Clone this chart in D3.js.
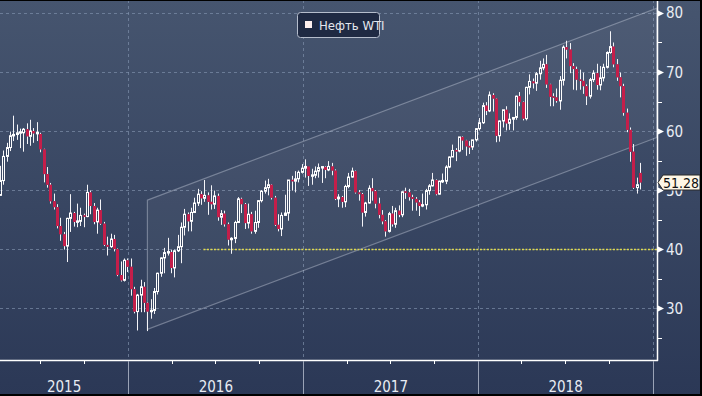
<!DOCTYPE html>
<html>
<head>
<meta charset="utf-8">
<title>WTI weekly</title>
<script src="https://cdn.jsdelivr.net/npm/d3@7"></script>
<style>
  body { margin: 0; background: #2e3b58; }
  svg { display: block; }
  text { font-family: "Liberation Sans Narrow", "Arial Narrow", "DejaVu Sans Condensed", sans-serif; }
</style>
</head>
<body>
<script>
// weekly candles, Apr 2015 - Dec 2018
var weekStart = new Date(2015, 3, 6);
var weekEnd = new Date(2018, 11, 4);

var opens = [
  49.1,51.6,55.7,57.2,59.2,59.4,59.7,59.7,60.3,59.1,60.0,59.6,59.5,56.9,52.7,50.9,48.1,47.1,43.9,42.5,40.5,45.2,46.1,44.6,44.7,45.7,45.5,49.6,47.3,44.6,46.6,44.3,40.7,40.4,41.7,40.0,35.6,34.7,38.1,
  37.0,33.2,29.4,32.2,33.6,30.9,29.4,29.6,32.8,35.9,38.5,39.4,39.5,36.8,39.7,40.4,43.7,45.9,44.7,46.2,47.8,49.3,48.6,49.1,48.0,47.6,49.0,45.4,46.0,44.2,41.6,41.8,44.5,48.5,47.6,44.4,45.9,43.0,44.5,48.2,49.8,50.4,50.9,48.7,44.1,43.4,45.7,46.1,51.7,51.5,51.9,53.0,
  53.7,54.0,52.4,52.5,53.2,53.8,53.9,53.4,54.0,53.3,48.5,48.8,48.0,50.6,52.2,53.2,49.6,49.3,46.2,47.8,50.3,49.8,47.7,45.8,44.7,43.0,46.0,44.2,46.5,45.8,49.7,49.6,48.8,48.5,47.9,47.3,47.5,49.9,50.7,51.7,49.3,51.5,51.5,53.9,55.6,56.7,56.6,59.0,58.4,57.4,57.3,58.5,
  60.4,61.4,64.3,63.4,66.1,65.5,59.2,61.7,63.6,61.3,62.0,62.3,65.9,64.9,62.1,67.4,68.4,68.1,69.7,70.7,71.3,67.9,65.8,65.7,65.1,68.6,74.2,73.8,71.0,70.5,68.7,68.5,67.6,65.9,68.7,69.8,67.8,69.0,70.8,73.3,74.3,71.3,69.1,67.6,63.1,60.2,56.5,50.4,52.9
];
var highs = [
  54.1,56.7,58.0,59.9,62.6,61.1,60.4,60.5,61.3,61.9,60.5,61.5,59.7,57.0,53.9,51.2,49.4,47.6,45.3,42.9,45.3,49.3,46.3,47.7,47.0,46.0,50.9,49.9,47.8,47.0,48.4,44.6,42.1,42.6,42.4,40.1,37.9,38.4,38.4,
  38.4,33.6,32.4,34.8,34.4,31.0,31.5,33.4,36.0,38.6,40.2,41.9,39.9,39.9,42.4,44.5,46.8,46.2,47.0,48.7,50.2,49.8,51.7,49.6,50.8,49.9,49.4,46.6,46.5,44.5,42.0,44.8,48.8,48.7,47.8,47.7,46.3,46.5,48.3,50.0,51.6,51.9,51.0,49.0,45.9,46.2,49.2,51.7,52.4,53.2,53.3,54.4,
  55.2,54.0,53.6,54.0,54.5,54.0,54.0,54.9,54.6,53.5,49.3,49.0,50.9,52.9,53.8,53.3,50.0,49.5,48.0,50.8,52.0,50.0,48.7,46.6,44.9,46.3,47.3,47.0,47.4,49.8,50.4,50.2,49.2,48.8,48.3,49.4,50.2,51.0,52.9,51.8,51.6,52.8,54.2,55.7,57.7,57.1,59.0,59.1,58.5,58.3,58.5,60.5,
  62.2,64.8,64.9,66.7,66.4,65.6,61.8,63.6,64.2,63.0,62.3,66.0,66.6,65.0,67.5,69.6,68.9,70.0,71.9,72.3,72.9,68.0,66.4,67.2,69.3,74.5,75.3,74.9,71.5,70.9,70.4,69.9,67.9,69.0,70.3,71.4,71.0,71.4,73.5,76.9,75.0,72.2,69.9,68.0,63.8,60.6,57.8,52.1,54.6
];
var lows = [
  49.0,50.9,54.8,56.6,58.3,58.5,57.1,56.5,57.8,57.5,58.0,58.3,56.4,51.3,50.4,47.7,46.7,43.5,41.4,39.9,37.8,42.9,43.8,43.7,43.9,43.7,45.4,45.9,44.2,42.6,44.1,40.5,38.9,40.2,39.6,35.4,34.5,34.5,36.1,
  32.1,29.1,26.2,29.3,29.3,26.1,28.2,29.0,32.3,35.3,35.9,38.9,35.9,35.2,39.5,37.6,42.3,43.0,43.0,46.1,47.3,47.5,48.0,45.8,46.7,46.8,44.8,44.1,43.8,40.6,39.2,41.0,44.4,46.1,43.4,43.5,42.6,42.6,43.6,47.9,49.4,49.1,48.4,43.9,43.0,42.2,45.6,44.8,49.9,49.6,51.3,52.8,
  52.1,50.7,50.9,52.0,52.1,51.2,52.0,53.2,52.5,48.3,47.1,47.0,47.1,50.3,52.1,49.4,48.2,43.8,45.5,47.7,48.2,46.9,45.2,44.2,42.1,42.8,43.8,43.6,45.4,45.4,48.5,48.2,46.5,46.5,45.6,47.1,46.7,49.2,50.6,49.1,49.2,51.2,51.0,53.7,55.6,54.9,56.4,56.8,55.8,56.1,56.8,58.2,
  60.1,61.2,62.7,63.2,63.3,58.1,58.2,60.6,60.1,60.2,60.1,61.9,64.2,61.8,61.8,66.2,67.2,66.8,68.7,70.3,67.3,64.2,64.2,64.8,63.6,67.7,72.3,69.8,67.0,66.9,67.0,66.3,64.4,65.5,68.3,67.0,66.9,68.4,70.6,73.1,70.8,68.5,65.7,62.6,59.8,54.8,50.2,49.4,50.1
];
var closes = [
  51.6,55.7,57.2,59.2,59.4,59.7,59.8,60.3,59.1,60.0,59.6,59.7,56.9,52.7,50.9,48.1,47.1,43.9,42.5,40.5,45.2,46.1,44.6,44.7,45.7,45.5,49.6,47.3,44.6,46.6,44.3,40.7,40.4,41.7,40.0,35.6,34.7,38.1,37.0,
  33.2,29.4,32.2,33.6,30.9,29.4,29.6,32.8,35.9,38.5,39.4,39.5,36.8,39.7,40.4,43.7,45.9,44.7,46.2,47.8,49.3,48.6,49.1,48.0,47.6,49.0,45.4,46.0,44.2,41.6,41.8,44.5,48.5,47.6,44.4,45.9,43.0,44.5,48.2,49.8,50.4,50.9,48.7,44.1,43.4,45.7,46.1,51.7,51.5,51.9,53.0,53.7,
  54.0,52.4,52.5,53.2,53.8,53.9,53.4,54.0,53.3,48.5,48.8,48.0,50.6,52.2,53.2,49.6,49.3,46.2,47.8,50.3,49.8,47.7,45.8,44.7,43.0,46.0,44.2,46.5,45.8,49.7,49.6,48.8,48.5,47.9,47.3,47.5,49.9,50.7,51.7,49.3,51.5,51.5,53.9,55.6,56.7,56.6,59.0,58.4,57.4,57.3,58.5,60.4,
  61.4,64.3,63.4,66.1,65.5,59.2,61.7,63.6,61.3,62.0,62.3,65.9,64.9,62.1,67.4,68.4,68.1,69.7,70.7,71.3,67.9,65.8,65.7,65.1,68.6,74.2,73.8,71.0,70.5,68.7,68.5,67.6,65.9,68.7,69.8,67.8,69.0,70.8,73.3,74.3,71.3,69.1,67.6,63.1,60.2,56.5,50.4,50.9,51.28
];

var yTicks = [25, 30, 35, 40, 45, 50, 55, 60, 65, 70, 75, 80];
var yLabelTicks = [30, 40, 50, 60, 70, 80];
var years = [2015, 2016, 2017, 2018];
var lastPrice = 51.28;
var legendLabel = "Нефть WTI";

// trend channel and support level
var channelDates = [new Date(2016, 1, 10), new Date(2019, 0, 9)];
var channelUpper = [48.3, 80.8];
var channelLower = [26.4, 58.9];
var supportLevel = 40;
var supportStart = new Date(2016, 5, 6);

var w = 702, h = 396;
var plotW = 657, plotH = 360;

var x = d3.scaleTime()
  .domain([new Date(2015, 0, 1), new Date(2019, 0, 1)])
  .range([-46.5, 653]);
var y = d3.scaleLinear().domain([21.2, 82.2]).range([plotH, 0]);

var candles = d3.timeMonday.range(weekStart, weekEnd).map(function(d, i) {
  return { date: d3.timeDay.offset(d, 2), o: opens[i], h: highs[i], l: lows[i], c: closes[i] };
});

var svg = d3.select("body").append("svg").attr("width", w).attr("height", h);
var defs = svg.append("defs");
var grad = defs.append("linearGradient").attr("id", "bg")
  .attr("x1", 0).attr("y1", 0).attr("x2", 0).attr("y2", 1);
grad.append("stop").attr("offset", "0%").attr("stop-color", "#46556f");
grad.append("stop").attr("offset", "100%").attr("stop-color", "#2b3856");
defs.append("clipPath").attr("id", "clip")
  .append("rect").attr("x", 0).attr("y", 0).attr("width", plotW).attr("height", plotH);
// only the part of the "50" label that peeks out below the price tag
defs.append("clipPath").attr("id", "underTag")
  .append("rect").attr("x", plotW).attr("y", Math.round(y(lastPrice)) + 8).attr("width", 45).attr("height", 30);

svg.append("rect").attr("width", w).attr("height", h).attr("fill", "url(#bg)");

var plot = svg.append("g").attr("clip-path", "url(#clip)");

// grid
plot.selectAll("line.hgrid").data(yLabelTicks).enter().append("line")
  .attr("x1", 0).attr("x2", plotW)
  .attr("y1", function(d) { return Math.round(y(d)) + 0.5; })
  .attr("y2", function(d) { return Math.round(y(d)) + 0.5; })
  .attr("stroke", "#7e8ea9").attr("stroke-opacity", 0.7).attr("stroke-dasharray", "3,3");
var yearStarts = years.slice(1).map(function(v) { return new Date(v, 0, 1); }).concat([new Date(2019, 0, 1)]);
plot.selectAll("line.vgrid").data(yearStarts).enter().append("line")
  .attr("x1", function(d) { return Math.round(x(d)) + 0.5; })
  .attr("x2", function(d) { return Math.round(x(d)) + 0.5; })
  .attr("y1", 0).attr("y2", plotH)
  .attr("stroke", "#7e8ea9").attr("stroke-opacity", 0.7).attr("stroke-dasharray", "3,3");

// channel
var chPts = [
  [x(channelDates[0]), y(channelUpper[0])],
  [x(channelDates[1]), y(channelUpper[1])],
  [x(channelDates[1]), y(channelLower[1])],
  [x(channelDates[0]), y(channelLower[0])]
];
plot.append("path")
  .attr("d", "M" + chPts.join("L") + "Z")
  .attr("fill", "#ffffff").attr("fill-opacity", 0.045)
  .attr("stroke", "#c9d0dd").attr("stroke-opacity", 0.42).attr("stroke-width", 1.2);

// support level
plot.append("line")
  .attr("x1", x(supportStart)).attr("x2", plotW)
  .attr("y1", Math.round(y(supportLevel)) + 0.5).attr("y2", Math.round(y(supportLevel)) + 0.5)
  .attr("stroke", "#e2dc4c").attr("stroke-width", 1.3).attr("stroke-dasharray", "2,1.5");

// candles
plot.selectAll("g.candle").data(candles).enter().append("g")
  .attr("class", "candle")
  .each(function(d) {
    var g = d3.select(this);
    var cx = Math.round(x(d.date)) + 0.5;
    var up = d.c >= d.o;
    var top = y(Math.max(d.o, d.c)), bot = y(Math.min(d.o, d.c));
    if (bot - top < 1.5) { var m = (top + bot) / 2; top = m - 0.75; bot = m + 0.75; }
    g.append("line").attr("x1", cx).attr("x2", cx).attr("y1", y(d.h)).attr("y2", top)
      .attr("stroke", "#f4f4f8").attr("stroke-width", 1);
    g.append("line").attr("x1", cx).attr("x2", cx).attr("y1", bot).attr("y2", y(d.l))
      .attr("stroke", "#f4f4f8").attr("stroke-width", 1);
    if (up) {
      g.append("rect").attr("x", cx - 1).attr("y", top).attr("width", 2).attr("height", bot - top)
        .attr("fill", "none").attr("stroke", "#ffffff").attr("stroke-width", 1);
    } else {
      g.append("rect").attr("x", cx - 1.5).attr("y", top).attr("width", 3).attr("height", bot - top)
        .attr("fill", "#c41e4a");
    }
  });

// axes
svg.append("line").attr("x1", 0).attr("x2", plotW + 1).attr("y1", plotH + 0.5).attr("y2", plotH + 0.5)
  .attr("stroke", "#ffffff").attr("stroke-width", 1.5);
svg.append("line").attr("x1", plotW + 0.5).attr("x2", plotW + 0.5).attr("y1", 0).attr("y2", plotH + 1)
  .attr("stroke", "#ffffff").attr("stroke-width", 1.5);

var quarters = d3.timeMonth.every(3).range(new Date(2015, 0, 1), new Date(2019, 0, 2))
  .filter(function(d) { return x(d) > 0 && x(d) < plotW; });
svg.selectAll("line.qtick").data(quarters).enter().append("line")
  .attr("x1", function(d) { return Math.round(x(d)) + 0.5; })
  .attr("x2", function(d) { return Math.round(x(d)) + 0.5; })
  .attr("y1", plotH).attr("y2", plotH + 4)
  .attr("stroke", "#ffffff");
svg.selectAll("line.ysep").data(yearStarts).enter().append("line")
  .attr("x1", function(d) { return Math.round(x(d)) + 0.5; })
  .attr("x2", function(d) { return Math.round(x(d)) + 0.5; })
  .attr("y1", plotH + 1).attr("y2", h)
  .attr("stroke", "#9aa3b6").attr("stroke-width", 1);

svg.selectAll("text.year").data(years).enter().append("text")
  .attr("x", function(v) {
    var a = Math.max(0, x(new Date(v, 0, 1))), b = Math.min(plotW, x(new Date(v + 1, 0, 1)));
    return (a + b) / 2;
  })
  .attr("y", 392)
  .attr("text-anchor", "middle").attr("font-size", 15).attr("fill", "#e8ecf3")
  .text(function(v) { return v; });

// y ticks
svg.selectAll("line.ytick").data(yTicks.filter(function(v) { return yLabelTicks.indexOf(v) < 0; }))
  .enter().append("line")
  .attr("x1", plotW).attr("x2", plotW + 5)
  .attr("y1", function(d) { return Math.round(y(d)) + 0.5; })
  .attr("y2", function(d) { return Math.round(y(d)) + 0.5; })
  .attr("stroke", "#ffffff");
svg.selectAll("path.ymark").data(yLabelTicks).enter().append("path")
  .attr("d", function(d) {
    var yy = Math.round(y(d)) + 0.5;
    return "M" + (plotW + 1) + "," + (yy - 3) + "L" + (plotW + 7) + "," + yy + "L" + (plotW + 1) + "," + (yy + 3) + "Z";
  })
  .attr("fill", "#ffffff");
svg.selectAll("text.ylab").data(yLabelTicks).enter().append("text")
  .attr("x", plotW + 9).attr("y", function(d) { return y(d) + 5.5; })
  .attr("font-size", 15).attr("fill", "#e8ecf3")
  .attr("clip-path", function(d) { return Math.abs(y(d) - y(lastPrice)) < 12 ? "url(#underTag)" : null; })
  .text(function(d) { return d; });

// last price tag
var ty = Math.round(y(lastPrice)) + 0.5;
svg.append("path")
  .attr("d", "M" + (plotW + 1) + "," + ty + "L" + (plotW + 6) + "," + (ty - 7.5) + "L700," + (ty - 7.5) +
    "L700," + (ty + 7.5) + "L" + (plotW + 6) + "," + (ty + 7.5) + "Z")
  .attr("fill", "#fff7e6").attr("stroke", "#2a2a2a").attr("stroke-width", 1);
svg.append("text").attr("x", 681).attr("y", ty + 5)
  .attr("text-anchor", "middle").attr("font-size", 14).attr("fill", "#111111")
  .text(lastPrice.toFixed(2));

// legend
var lg = svg.append("g");
lg.append("rect").attr("x", 297.5).attr("y", 12.5).attr("width", 82).attr("height", 25).attr("rx", 3)
  .attr("fill", "#1f2a43").attr("stroke", "#b5bdcc");
lg.append("rect").attr("x", 305).attr("y", 21).attr("width", 7).attr("height", 7).attr("fill", "#fdf0ee");
lg.append("text").attr("x", 319).attr("y", 29.5).attr("font-size", 13).attr("fill", "#e4e7ee")
  .text(legendLabel);

// frame edges
svg.append("rect").attr("x", 0).attr("y", 0).attr("width", w).attr("height", 1).attr("fill", "#000");
svg.append("rect").attr("x", 700).attr("y", 0).attr("width", 2).attr("height", h).attr("fill", "#000");
svg.append("rect").attr("x", 0).attr("y", 394).attr("width", w).attr("height", 2).attr("fill", "#000");
</script>
</body>
</html>
